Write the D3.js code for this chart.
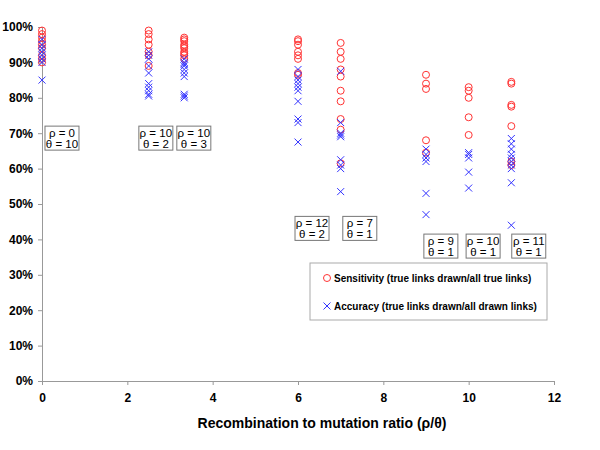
<!DOCTYPE html>
<html><head><meta charset="utf-8">
<script src="https://cdn.jsdelivr.net/npm/d3@7"></script>
<style>body{margin:0;background:#fff}svg{display:block}</style>
</head><body><svg id="c" width="600" height="450"></svg>
<script>
const ratios = [0, 2.5, 3.333, 6, 7, 9, 10, 11];
const sensitivity = [
  [99, 98, 97, 96, 95, 94, 92, 91, 90],
  [99, 98, 96.5, 95, 93, 92, 89],
  [97, 96.5, 96, 95, 94.5, 94, 93, 92.5, 92, 91],
  [96.5, 96, 95, 93, 92, 91, 87, 86.5],
  [95.5, 93, 91, 88, 86, 82, 79, 74, 71, 61.5],
  [86.5, 84, 82.5, 68, 64.5],
  [83, 82, 80, 74.5, 69.5],
  [84.5, 84, 78, 77.5, 72, 62, 61]
];
const accuracy = [
  [96.5, 95, 94, 93, 92, 91, 90, 85],
  [93, 92, 91, 89, 87, 84, 83, 82, 81, 80.5],
  [91, 90, 89.5, 89, 88, 87, 86, 81, 80.5, 80],
  [88, 86, 85, 84, 83, 82, 79, 74, 73, 67.5],
  [87.5, 73, 70, 69.5, 69, 62.5, 61, 60, 53.5],
  [65.5, 64, 63, 62, 53, 47],
  [64.5, 64, 63, 59, 54.5],
  [68.5, 67, 65.5, 64, 63, 62, 61, 60, 56, 44]
];
const labelRho = ["ρ = 0", "ρ = 10", "ρ = 10", "ρ = 12", "ρ = 7", "ρ = 9", "ρ = 10", "ρ = 11"];
const labelTheta = ["θ = 10", "θ = 2", "θ = 3", "θ = 2", "θ = 1", "θ = 1", "θ = 1", "θ = 1"];
// annotation anchor (left/top corner) in data units
const labelX = [0.07, 2.27, 3.16, 5.93, 7.05, 8.95, 9.94, 11.01];
const labelY = [72, 72, 72, 46.5, 46.5, 41.5, 41.5, 41.5];
const xTicks = [0, 2, 4, 6, 8, 10, 12];
const yTicks = [0, 10, 20, 30, 40, 50, 60, 70, 80, 90, 100];
const legendLabels = ["Sensitivity (true links drawn/all true links)", "Accuracy (true links drawn/all drawn links)"];
const xTitle = "Recombination to mutation ratio (ρ/θ)";

const svg = d3.select("#c");
const font = "'Liberation Sans', Arial, sans-serif";
const x = d3.scaleLinear().domain([0, 12]).range([42, 554]);
const y = d3.scaleLinear().domain([0, 100]).range([381, 27]);
const red = "#ff3333", blue = "#3333ff", gray = "#999";

const yAxis = svg.append("g").attr("transform", "translate(42,0)")
  .call(d3.axisLeft(y).tickValues(yTicks).tickFormat(d => d + "%").tickSize(4).tickPadding(5));
const xAxis = svg.append("g").attr("transform", "translate(0,381)")
  .call(d3.axisBottom(x).tickValues(xTicks).tickSize(4).tickPadding(8));
[yAxis, xAxis].forEach(a => {
  a.selectAll("path,line").attr("stroke", gray);
  a.selectAll("text").attr("font-family", font).attr("font-size", 12).attr("font-weight", "bold").attr("fill", "#000");
});

svg.append("text").attr("x", 322).attr("y", 428).attr("text-anchor", "middle")
  .attr("font-family", font).attr("font-size", 14).attr("font-weight", "bold").text(xTitle);

const circles = [], crosses = [];
ratios.forEach((r, i) => {
  sensitivity[i].forEach(v => circles.push([r, v]));
  accuracy[i].forEach(v => crosses.push([r, v]));
});
svg.append("g").selectAll("circle").data(circles).join("circle")
  .attr("cx", d => x(d[0])).attr("cy", d => y(d[1])).attr("r", 3.5)
  .attr("fill", "none").attr("stroke", red).attr("stroke-width", 1);
const cs = 3.5;
svg.append("g").selectAll("path").data(crosses).join("path")
  .attr("d", d => { const cx = x(d[0]), cy = y(d[1]);
    return `M${cx-cs},${cy-cs}L${cx+cs},${cy+cs}M${cx-cs},${cy+cs}L${cx+cs},${cy-cs}`; })
  .attr("stroke", blue).attr("stroke-width", 1).attr("fill", "none");

// annotation boxes
const ann = svg.append("g").selectAll("g").data(labelX).join("g")
  .attr("transform", (lx, i) => `translate(${x(lx)},${y(labelY[i])})`);
ann.append("rect").attr("x", 0).attr("y", 0).attr("width", 34).attr("height", 24)
  .attr("fill", "#fff").attr("stroke", "#777").attr("stroke-width", 1);
ann.append("text").attr("x", 17).attr("y", 10.5).attr("text-anchor", "middle")
  .attr("font-family", font).attr("font-size", 11.5).text((d, i) => labelRho[i]);
ann.append("text").attr("x", 17).attr("y", 21.5).attr("text-anchor", "middle")
  .attr("font-family", font).attr("font-size", 11.5).text((d, i) => labelTheta[i]);

// legend
const lg = svg.append("g");
lg.append("rect").attr("x", 310).attr("y", 263).attr("width", 237).attr("height", 57)
  .attr("fill", "#fff").attr("stroke", "#aaa");
lg.append("circle").attr("cx", 327).attr("cy", 278).attr("r", 3.5).attr("fill", "none").attr("stroke", red);
lg.append("path").attr("d", "M323.5,302.5L330.5,309.5M323.5,309.5L330.5,302.5").attr("stroke", blue);
lg.selectAll("text.l").data(legendLabels).join("text")
  .attr("x", 334).attr("y", (d, i) => 282 + i * 28)
  .attr("font-family", font).attr("font-size", 10).attr("font-weight", "bold").text(d => d);
</script></body></html>
